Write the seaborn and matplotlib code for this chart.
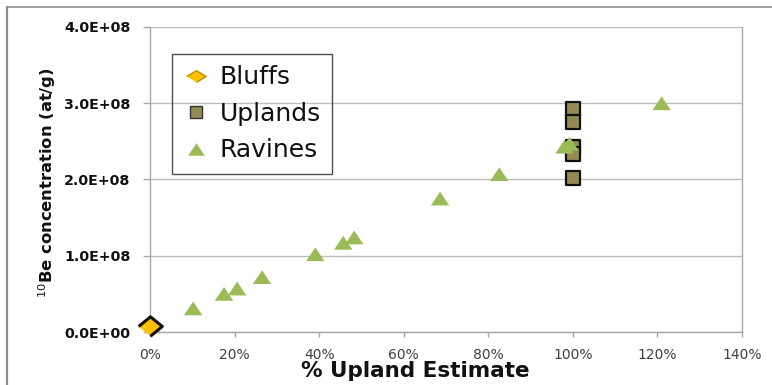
import matplotlib
matplotlib.use("Agg")
import matplotlib.pyplot as plt
import seaborn as sns
import pandas as pd
from matplotlib.lines import Line2D

# Sample groups: % upland estimate vs 10Be concentration (atoms/g)
bluffs_pct = [0.0]
bluffs_be = [0.08e8]

uplands_pct = [100.0, 100.0, 100.0, 100.0, 100.0]
uplands_be = [2.92e8, 2.75e8, 2.42e8, 2.33e8, 2.02e8]

ravines_pct = [10.2, 17.5, 20.6, 26.5, 39.1, 45.7, 48.3, 68.6, 82.6, 98.0, 99.2, 121.0]
ravines_be = [0.31e8, 0.50e8, 0.57e8, 0.72e8, 1.02e8, 1.17e8, 1.24e8,
              1.75e8, 2.07e8, 2.43e8, 2.47e8, 3.00e8]

x_ticks = [0, 20, 40, 60, 80, 100, 120, 140]
y_ticks = [0.0, 1e8, 2e8, 3e8, 4e8]

sns.set_style("white")
plt.rcParams["font.family"] = ["DejaVu Sans"]
plt.rcParams["mathtext.fontset"] = "dejavusans"

W, H = 772, 385
fig = plt.figure(figsize=(W / 100, H / 100), dpi=100)
ax = fig.add_axes([150 / W, 1 - 332 / H, (742 - 150) / W, (332 - 27) / H])

tri = [(-1, -0.75), (1, -0.75), (0, 0.75)]
dia = [(-1, 0), (0, 0.82), (1, 0), (0, -0.82)]
dia_flat = [(-1, 0), (0, 0.6), (1, 0), (0, -0.6)]

bluffs = pd.DataFrame({"pct": bluffs_pct, "be": bluffs_be})
uplands = pd.DataFrame({"pct": uplands_pct, "be": uplands_be})
ravines = pd.DataFrame({"pct": ravines_pct, "be": ravines_be})

sns.scatterplot(data=uplands, x="pct", y="be", ax=ax, marker="s", s=105,
                color="#948A54", edgecolor="#111111", linewidth=1.6,
                zorder=3, clip_on=False, legend=False)
sns.scatterplot(data=ravines, x="pct", y="be", ax=ax, marker=tri, s=175,
                color="#9BBB59", edgecolor="none", linewidth=0,
                zorder=4, clip_on=False, legend=False)
sns.scatterplot(data=bluffs, x="pct", y="be", ax=ax, marker=dia, s=290,
                color="#FFC000", edgecolor="#111111", linewidth=2.2,
                zorder=5, clip_on=False, legend=False)

ax.set_xlim(0, 140)
ax.set_ylim(0, 4e8)
ax.set_xticks(x_ticks)
ax.set_xticklabels([f"{v}%" for v in x_ticks], color="#404040", fontsize=10)
ax.set_yticks(y_ticks)
ax.set_yticklabels([f"{v:.1E}" for v in y_ticks], fontsize=10.3, fontweight="bold",
                   color="#111111")

ax.grid(axis="y", color="#bdbdbd", linewidth=1.0)
ax.grid(axis="x", visible=False)
ax.set_axisbelow(True)
for side in ["left", "bottom", "right"]:
    ax.spines[side].set_visible(True)
    ax.spines[side].set_color("#a6a6a6")
    ax.spines[side].set_linewidth(1.0)
ax.spines["top"].set_visible(False)

ax.tick_params(axis="y", direction="out", length=5, width=1, color="#a6a6a6", pad=9, left=True)
ax.tick_params(axis="x", direction="out", length=3.5, width=1, color="#a6a6a6", pad=8, bottom=True)

ax.set_xlabel("")
ax.set_ylabel(r"$^{10}$Be concentration (at/g)", fontsize=11.8, fontweight="bold",
              color="#111111")
ax.yaxis.set_label_coords(-0.155, 0.49)
fig.text(415 / W, 1 - 371 / H, "% Upland Estimate", ha="center", va="center",
         fontsize=15.5, fontweight="bold", color="#111111")

handles = [
    Line2D([], [], linestyle="none", marker=dia_flat, markersize=14,
           markerfacecolor="#FFC000", markeredgecolor="#C08A00", markeredgewidth=1.0),
    Line2D([], [], linestyle="none", marker="s", markersize=9,
           markerfacecolor="#948A54", markeredgecolor="#333333", markeredgewidth=1.0),
    Line2D([], [], linestyle="none", marker=tri, markersize=12,
           markerfacecolor="#9BBB59", markeredgecolor="none"),
]
leg = ax.legend(handles, ["Bluffs", "Uplands", "Ravines"],
                loc="upper left", bbox_to_anchor=(172 / W, 1 - 54 / H),
                bbox_transform=fig.transFigure, frameon=True, fancybox=False,
                fontsize=18, labelspacing=0.5, handlelength=1.0,
                handletextpad=0.45, borderpad=0.45, borderaxespad=0,
                labelcolor="#111111")
leg.get_frame().set_edgecolor("#222222")
leg.get_frame().set_facecolor("none")
leg.get_frame().set_linewidth(1.0)

# Chart frame along the top and left edges
fig.add_artist(Line2D([7 / W, 1], [1 - 7 / H, 1 - 7 / H], transform=fig.transFigure,
                      color="#8c8c8c", linewidth=1.2))
fig.add_artist(Line2D([7 / W, 7 / W], [0, 1 - 7 / H], transform=fig.transFigure,
                      color="#8c8c8c", linewidth=1.6))

fig.savefig("out.png", dpi=100)
